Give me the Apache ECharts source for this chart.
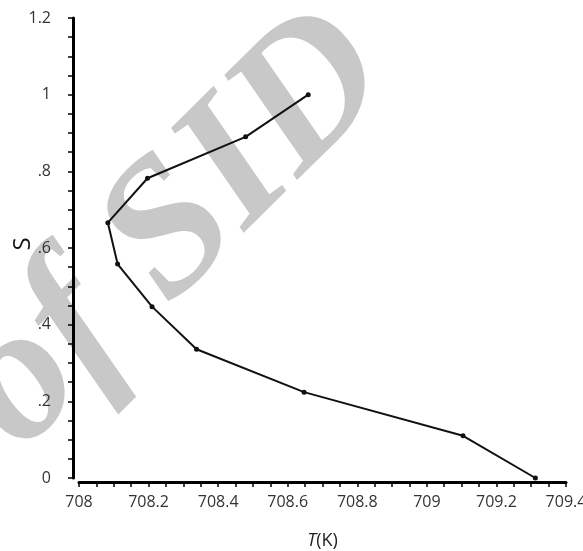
<!DOCTYPE html>
<html><head><meta charset="utf-8">
<script src="https://cdn.jsdelivr.net/npm/echarts@6/dist/echarts.min.js"></script>
<style>html,body{margin:0;padding:0;background:#fff}#c{width:583px;height:551px}</style>
</head><body><div id="c"></div>
<script>
const temperatureK = [708.659, 708.479, 708.197, 708.083, 708.111, 708.210, 708.338, 708.647, 709.104, 709.312];
const sValues = [1.0, 0.89, 0.782, 0.666, 0.558, 0.447, 0.336, 0.224, 0.110, 0.0];
const yTickLabels = ['0', '.2', '.4', '.6', '.8', '1', '1.2'];
const xTickLabels = ['708', '708.2', '708.4', '708.6', '708.8', '709', '709.2', '709.4'];

const chart = echarts.init(document.getElementById('c'), null, {renderer: 'canvas'});
const labelFont = 'Open Sans';
chart.setOption({
  animation: false,
  backgroundColor: '#fff',
  grid: {left: 79, right: 17, top: 18, bottom: 73, outerBoundsMode: 'none', containLabel: false},
  graphic: [{
    type: 'text', x: 174, y: 232, rotation: 0.78, z: -10,
    style: {text: 'of SID', fill: '#c8c8c8', font: 'italic bold 192px "Liberation Serif"', align: 'center', verticalAlign: 'middle'}
  }],
  xAxis: {
    type: 'value', min: 708, max: 709.4, interval: 0.2, offset: 4,
    axisLine: {show: true, onZero: false, lineStyle: {color: '#000', width: 3}},
    axisTick: {show: true, length: 5, lineStyle: {color: '#000', width: 1.5}},
    minorTick: {show: true, splitNumber: 4, length: 5, lineStyle: {color: '#000', width: 1.5}},
    splitLine: {show: false},
    axisLabel: {color: '#333', fontSize: 16, fontFamily: labelFont, margin: 12,
      formatter: v => xTickLabels[Math.round((v - 708) / 0.2)]},
    name: '{i|T}(K)', nameLocation: 'middle', nameGap: 50, nameMoveOverlap: false,
    nameTextStyle: {fontSize: 18, fontFamily: labelFont, color: '#222',
      rich: {i: {fontStyle: 'italic', fontSize: 18, fontFamily: labelFont, color: '#222'}}}
  },
  yAxis: {
    type: 'value', min: 0, max: 1.2, interval: 0.2, offset: 6,
    axisLine: {show: true, onZero: false, lineStyle: {color: '#000', width: 3}},
    axisTick: {show: true, length: 5, lineStyle: {color: '#000', width: 1.5}},
    minorTick: {show: true, splitNumber: 4, length: 5, lineStyle: {color: '#000', width: 1.5}},
    splitLine: {show: false},
    axisLabel: {color: '#333', fontSize: 16, fontFamily: labelFont, margin: 22,
      formatter: v => yTickLabels[Math.round(v / 0.2)]},
    name: 'S', nameLocation: 'middle', nameGap: 38, nameRotate: 90, nameMoveOverlap: false,
    nameTextStyle: {fontSize: 24, fontFamily: labelFont, color: '#111', padding: [0, 0, 0, 8]}
  },
  series: [{
    type: 'line', z: 5,
    data: temperatureK.map((t, i) => [t, sValues[i]]),
    symbol: 'circle', symbolSize: 5,
    lineStyle: {color: '#111', width: 2},
    itemStyle: {color: '#111'}
  }]
});
</script></body></html>
